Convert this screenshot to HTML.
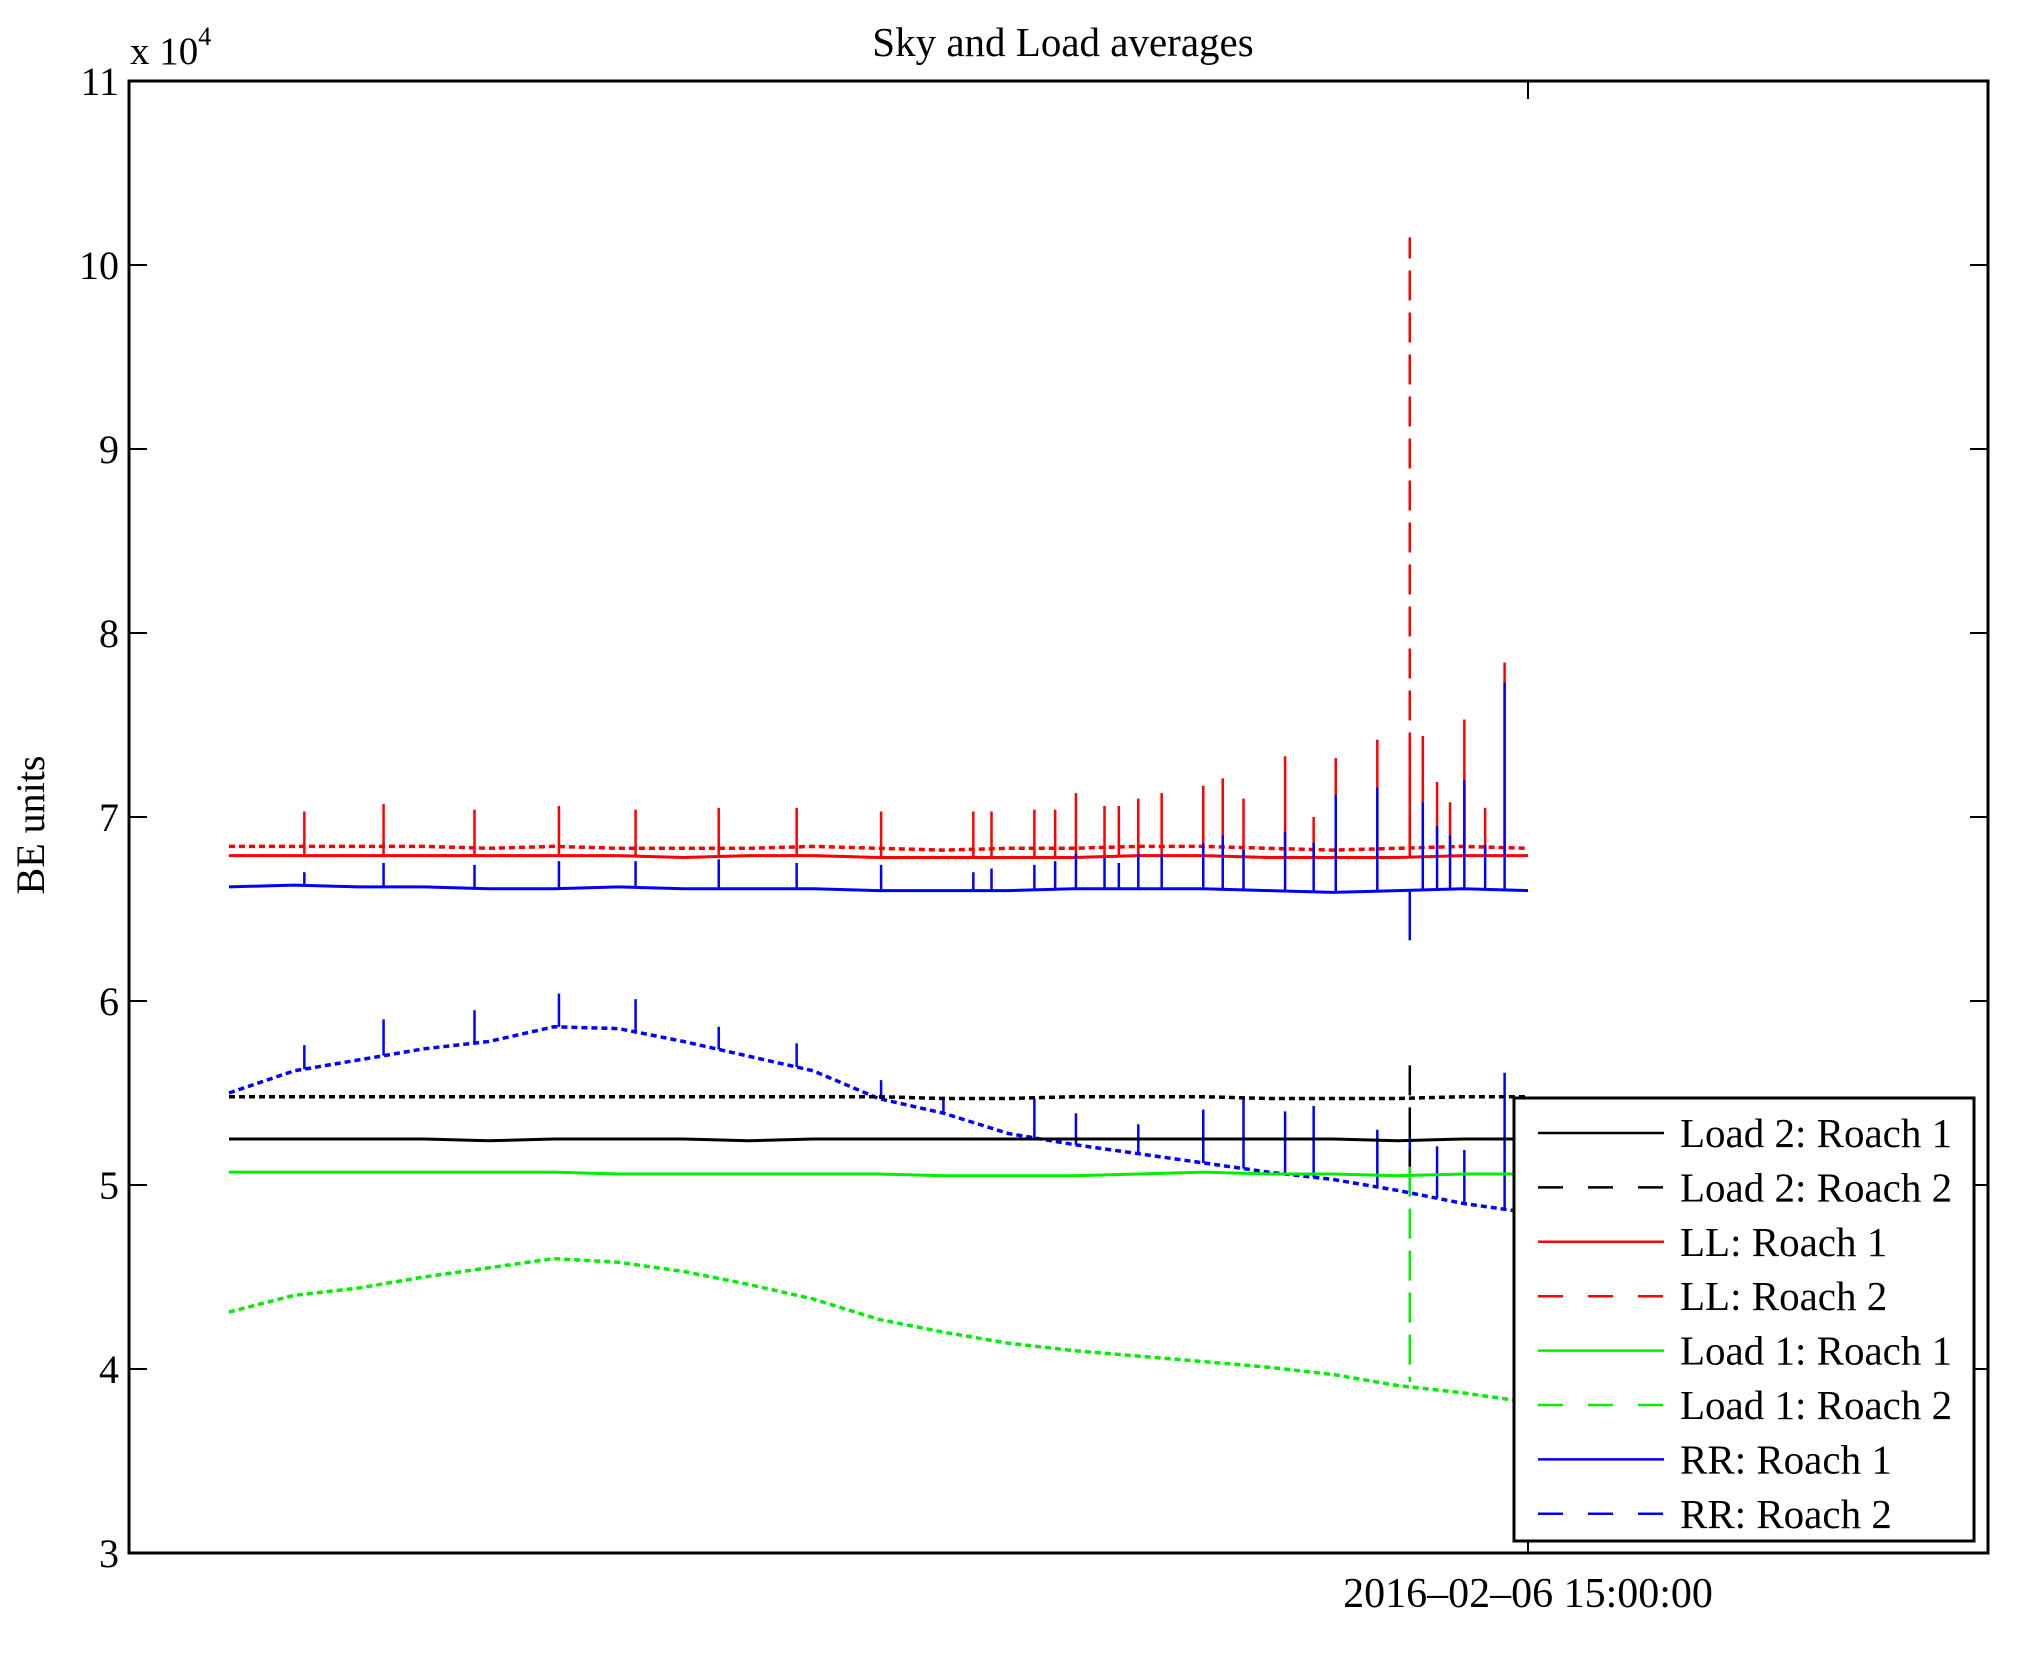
<!DOCTYPE html>
<html><head><meta charset="utf-8">
<style>
html,body{margin:0;padding:0;background:#fff;}
svg{display:block;font-family:"Liberation Serif",serif;}
</style></head>
<body>
<svg id="chart" width="2017" height="1679" viewBox="0 0 2017 1679" xmlns="http://www.w3.org/2000/svg">
<rect x="0" y="0" width="2017" height="1679" fill="#fff"/>
<text x="1063" y="56" font-size="41" text-anchor="middle">Sky and Load averages</text>
<text x="130" y="64" font-size="39">x 10<tspan font-size="26" dy="-19">4</tspan></text>
<text transform="translate(44,825) rotate(-90)" font-size="40" text-anchor="middle">BE units</text>
<g id="ticks"></g>
<g id="series"></g>
<rect x="129" y="81" width="1859" height="1472" fill="none" stroke="#000" stroke-width="3"/>
<g id="legend"></g>
</svg>
<script>
// Data (values in units of 10^4, t in 0..100 time index)
const smoothT = [0,5,10,15,20,25,30,35,40,45,50,55,60,65,70,75,80,85,90,95,100];
const load2R1 = [5.25,5.25,5.25,5.25,5.24,5.25,5.25,5.25,5.24,5.25,5.25,5.25,5.25,5.25,5.25,5.25,5.25,5.25,5.24,5.25,5.25];
const load2R2 = [5.48,5.48,5.48,5.48,5.48,5.48,5.48,5.48,5.48,5.48,5.48,5.47,5.47,5.48,5.48,5.48,5.47,5.47,5.47,5.48,5.48];
const llR1 = [6.79,6.79,6.79,6.79,6.79,6.79,6.79,6.78,6.79,6.79,6.78,6.78,6.78,6.78,6.79,6.79,6.78,6.78,6.78,6.79,6.79];
const llR2 = [6.84,6.84,6.84,6.84,6.83,6.84,6.83,6.83,6.83,6.84,6.83,6.82,6.83,6.83,6.84,6.84,6.83,6.82,6.83,6.84,6.83];
const load1R1 = [5.07,5.07,5.07,5.07,5.07,5.07,5.06,5.06,5.06,5.06,5.06,5.05,5.05,5.05,5.06,5.07,5.06,5.06,5.05,5.06,5.06];
const load1R2 = [4.31,4.40,4.44,4.50,4.55,4.60,4.58,4.53,4.46,4.38,4.27,4.20,4.14,4.10,4.07,4.04,4.01,3.97,3.91,3.87,3.82];
const rrR1 = [6.62,6.63,6.62,6.62,6.61,6.61,6.62,6.61,6.61,6.61,6.60,6.60,6.60,6.61,6.61,6.61,6.60,6.59,6.60,6.61,6.60];
const rrR2 = [5.50,5.62,5.68,5.74,5.78,5.86,5.85,5.78,5.70,5.62,5.47,5.39,5.28,5.22,5.17,5.12,5.07,5.03,4.97,4.90,4.85];
const spikeT = [5.8,11.9,18.9,25.4,31.3,37.7,43.7,50.2,57.3,58.7,62.0,63.6,65.2,67.4,68.5,70.0,71.8,75.0,76.5,78.1,81.3,83.5,85.2,88.4,90.9,91.9,93.0,94.0,95.1,96.7,98.2];
const llSpikes = [7.03,7.07,7.04,7.06,7.04,7.05,7.05,7.03,7.03,7.03,7.04,7.04,7.13,7.06,7.06,7.10,7.13,7.17,7.21,7.10,7.33,7.00,7.32,7.42,7.42,7.44,7.19,7.08,7.53,7.05,7.84];
const rrSpikes = [6.70,6.75,6.74,6.76,6.76,6.77,6.75,6.74,6.70,6.72,6.74,6.76,6.80,6.78,6.75,6.80,6.80,6.86,6.90,6.82,6.92,6.86,7.12,7.16,6.33,7.08,6.95,6.90,7.20,6.85,7.73];
const rr2SpikeT = [5.8,11.9,18.9,25.4,31.3,37.7,43.7,50.2,55.0,62.0,65.2,70.0,75.0,78.1,81.3,83.5,88.4,90.9,93.0,95.1,98.2];
const rr2SpikeVal = [5.76,5.90,5.95,6.04,6.01,5.86,5.77,5.57,5.48,5.47,5.39,5.33,5.41,5.48,5.40,5.43,5.30,5.28,5.21,5.19,5.61];
const bigSpikeT = 90.9;
const bigSpikeLL2 = 10.15;
const yTicks = [3,4,5,6,7,8,9,10,11];
const xTickT = 100;
const xTickLabel = "2016\u201302\u201306 15:00:00";
const legendLabels = ["Load 2: Roach 1","Load 2: Roach 2","LL: Roach 1","LL: Roach 2","Load 1: Roach 1","Load 1: Roach 2","RR: Roach 1","RR: Roach 2"];
const legendColors = ["#000","#000","#f00","#f00","#0e0","#0e0","#00f","#00f"];
const legendDashed = [false,true,false,true,false,true,false,true];

const NS="http://www.w3.org/2000/svg";
const X0=129,X1=1988,Y0=81,Y1=1553;
function xs(t){return 229+(1528-229)*t/100;}
function ys(v){return Y1-(v-3)/(11-3)*(Y1-Y0);}
function interp(arr,t){
  for(let i=1;i<smoothT.length;i++){
    if(t<=smoothT[i]){const f=(t-smoothT[i-1])/(smoothT[i]-smoothT[i-1]);return arr[i-1]+f*(arr[i]-arr[i-1]);}
  }
  return arr[arr.length-1];
}
function mk(tag,attrs,parent){const e=document.createElementNS(NS,tag);for(const k in attrs)e.setAttribute(k,attrs[k]);parent.appendChild(e);return e;}

const tg=document.getElementById('ticks');
yTicks.forEach(v=>{
  const y=ys(v);
  const l1=mk('line',{x1:X0,x2:X0+18,y1:y,y2:y,stroke:'#000','stroke-width':2},tg);
  
  
  const l2=mk('line',{x1:X1-18,x2:X1,y1:y,y2:y,stroke:'#000','stroke-width':2},tg);
  
  
  const t=mk('text',{x:X0-10,y:y+14,'font-size':40,'text-anchor':'end'},tg);
  t.textContent=String(v);
  
  
});
{
  const x=xs(xTickT);
  const a=mk('line',{x1:x,x2:x,y1:Y0,y2:Y0+18,stroke:'#000','stroke-width':2},tg);
  
  
  const b=mk('line',{x1:x,x2:x,y1:Y1-18,y2:Y1,stroke:'#000','stroke-width':2},tg);
  
  
  const t=mk('text',{x:x,y:1607,'font-size':42,'text-anchor':'middle'},tg);
  t.textContent=xTickLabel;
  
  
}

const sg=document.getElementById('series');
function line(vals,color,dashed,name){
  const d=vals.map((v,i)=>(i?'L':'M')+xs(smoothT[i]).toFixed(1)+','+ys(v).toFixed(1)).join(' ');
  const p=mk('path',{d:d,fill:'none',stroke:color,'stroke-width':dashed?3.5:3,'stroke-dasharray':dashed?'6,4':'none'},sg);
  
  
}
function spikes(ts,vals,baseArr,color,name){
  ts.forEach((t,i)=>{
    const x=xs(t);
    const s=mk('line',{x1:x,x2:x,y1:ys(interp(baseArr,t)),y2:ys(vals[i]),stroke:color,'stroke-width':2.5},sg);
    
    
  });
}
line(load1R2,'#0e0',true,'series-load1-roach2');
line(rrR2,'#00f',true,'series-rr-roach2');
spikes(rr2SpikeT,rr2SpikeVal,rrR2,'#00f','rr-roach2-spike');
line(load2R2,'#000',true,'series-load2-roach2');
line(load2R1,'#000',false,'series-load2-roach1');
line(load1R1,'#0e0',false,'series-load1-roach1');
line(llR2,'#f00',true,'series-ll-roach2');
line(llR1,'#f00',false,'series-ll-roach1');
spikes(spikeT,llSpikes,llR1,'#f00','ll-roach1-spike');
line(rrR1,'#00f',false,'series-rr-roach1');
spikes(spikeT,rrSpikes,rrR1,'#00f','rr-roach1-spike');
{
  const x=xs(bigSpikeT);
  const a=mk('line',{x1:x,x2:x,y1:ys(6.84),y2:ys(bigSpikeLL2),stroke:'#f00','stroke-width':2.5,'stroke-dasharray':'30,12'},sg);
  
  
  const b=mk('line',{x1:x,x2:x,y1:ys(5.65),y2:ys(5.0),stroke:'#000','stroke-width':2.5,'stroke-dasharray':'30,12'},sg);
  
  
  const c=mk('line',{x1:x,x2:x,y1:ys(5.1),y2:ys(3.93),stroke:'#0e0','stroke-width':2.5,'stroke-dasharray':'30,12'},sg);
  
  
}

const lg=document.getElementById('legend');
const box=mk('rect',{x:1514,y:1098,width:460,height:443,fill:'#fff',stroke:'#000','stroke-width':3},lg);


legendLabels.forEach((lab,i)=>{
  const y=1133+i*54.4;
  const l=mk('line',{x1:1538,x2:1664,y1:y,y2:y,stroke:legendColors[i],'stroke-width':2.5,'stroke-dasharray':legendDashed[i]?'25,25':'none'},lg);
  
  
  const t=mk('text',{x:1680,y:y+14,'font-size':41},lg);
  t.textContent=lab;
  
  
});
</script>
</body></html>
